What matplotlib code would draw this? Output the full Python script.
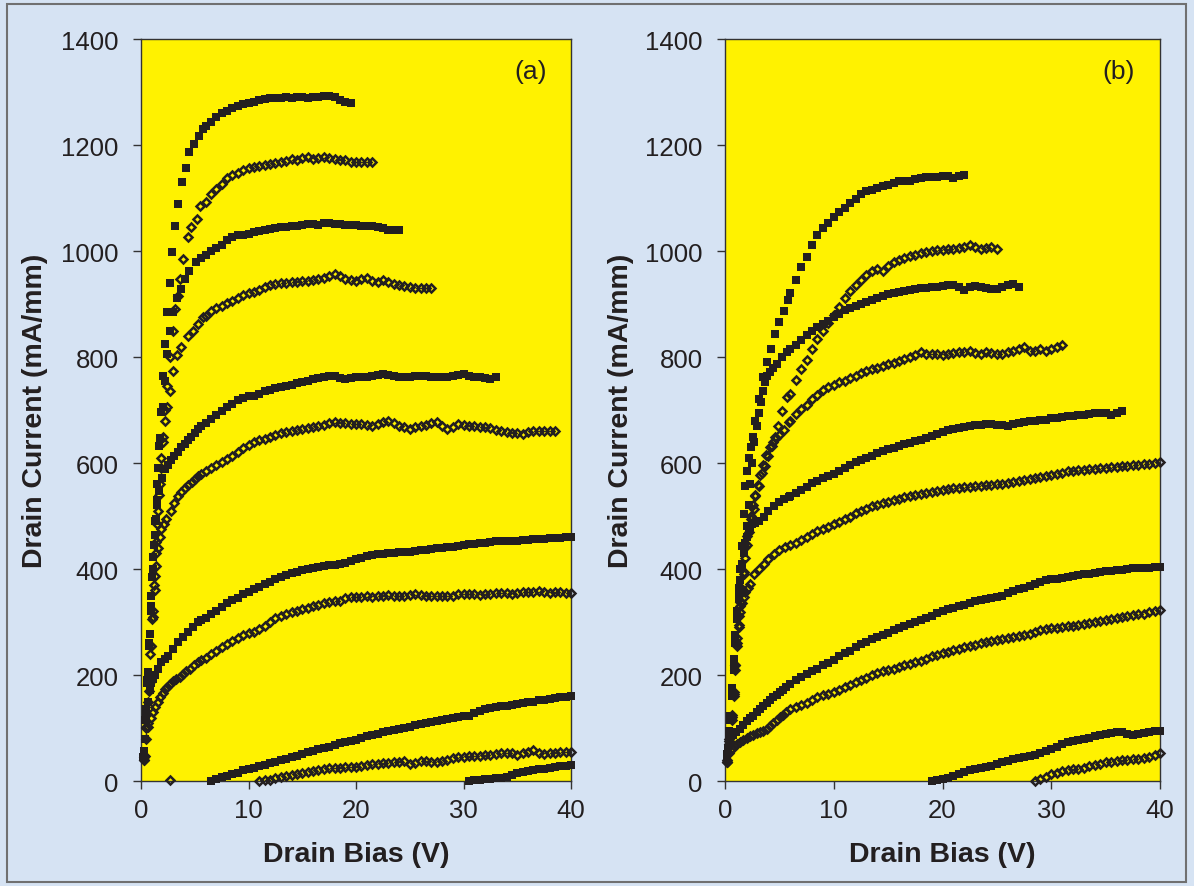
import numpy as np
import matplotlib
matplotlib.use('Agg')
import matplotlib.pyplot as plt
from matplotlib.patches import Rectangle

plt.rcParams['font.family'] = ['Liberation Sans', 'DejaVu Sans']

STEP = 0.5  # drain-bias step of the saturation part of each sweep (V)

# ======================= panel (a) =======================
# each curve: low-bias (V, I) pairs, start bias of the 0.5 V part, currents of that part
a1_lo = [(0.28,57),(0.49,136),(0.65,205),(0.81,277),(0.96,349),(1.12,423),(1.27,490),(1.5,560),(1.65,632),(1.83,696),(2.0,764),(2.2,825),(2.45,885),(2.73,940),(2.9,998),(3.2,1047),(3.44,1089),(3.8,1130),(4.2,1157),(4.5,1187),(4.9,1202),(5.4,1217),(5.8,1230)]
a1_v0 = 6.0
a1_hi = [1235,1243,1253,1260,1265,1269,1273,1277,1280,1282,
         1284,1286,1288,1289,1289,1290,1289,1290,1290,1288,
         1290,1291,1292,1293,1290,1285,1281,1280]

a2_lo = [(0.34,47),(0.65,110),(0.81,187),(0.96,255),(1.12,321),(1.27,387),(1.43,451),(1.58,510),(1.74,560),(1.9,610),(2.05,650),(2.25,700),(2.45,745),(2.7,800),(2.95,850),(3.2,890),(3.4,915),(3.63,947),(3.94,985),(4.34,1026),(4.65,1045),(5.18,1061),(5.5,1085)]
a2_v0 = 6.0
a2_hi = [1092,1108,1117,1126,1138,1143,1148,1152,1156,1158,
         1160,1162,1165,1166,1168,1170,1173,1172,1175,1177,
         1174,1176,1178,1176,1174,1172,1171,1168,1168,1167,
         1167,1168]

a3_lo = [(0.25,45),(0.42,115),(0.6,190),(0.77,260),(0.93,330),(1.1,400),(1.27,465),(1.45,530),(1.62,590),(1.8,648),(2.0,705),(2.2,755),(2.45,805),(2.7,850),(3.0,885),(3.35,911),(3.75,928),(4.06,947),(4.5,963),(5.1,979),(5.6,986)]
a3_v0 = 6.0
a3_hi = [992,1000,1006,1012,1020,1027,1030,1031,1033,1036,
         1038,1040,1042,1043,1045,1046,1047,1048,1050,1051,
         1051,1050,1052,1052,1051,1051,1050,1049,1050,1048,
         1047,1048,1046,1044,1040,1040,1040]

a4_lo = [(0.3,40),(0.5,100),(0.7,170),(0.87,240),(1.03,305),(1.2,370),(1.36,430),(1.52,485),(1.7,540),(1.88,590),(2.05,640),(2.25,680),(2.45,705),(2.67,736),(2.98,774),(3.38,803),(3.75,819),(4.37,840),(4.84,850),(5.3,862),(5.77,875)]
a4_v0 = 6.0
a4_hi = [878,886,892,897,901,906,912,917,920,922,
         927,932,936,938,939,940,941,942,943,944,
         946,948,950,953,956,952,948,946,944,948,
         950,944,942,946,942,938,936,934,933,931,
         931,930,931]

a5_lo = [(0.2,45),(0.4,115),(0.58,185),(0.75,255),(0.9,320),(1.05,385),(1.2,445),(1.35,495),(1.5,520),(1.7,548),(1.95,572),(2.2,588),(2.5,597),(2.82,605),(3.1,614),(3.44,621),(3.75,630),(4.06,636),(4.37,643),(4.68,649),(5.0,657),(5.3,664),(5.6,669)]
a5_v0 = 6.0
a5_hi = [676,683,691,699,706,712,718,723,726,727,
         730,735,738,741,744,746,748,751,753,755,
         758,760,762,764,764,760,758,760,762,762,
         762,764,766,767,766,764,763,762,762,764,
         765,764,763,762,762,762,764,766,767,764,
         762,762,760,758,762]

a6_lo = [(0.3,45),(0.5,102),(0.65,150),(0.81,200),(0.96,255),(1.12,310),(1.27,360),(1.43,405),(1.58,440),(1.74,460),(1.9,475),(2.1,485),(2.35,494),(2.8,510),(3.1,525),(3.44,538),(3.75,545),(4.1,553),(4.4,558),(4.7,564),(5.0,569),(5.3,576),(5.6,580)]
a6_v0 = 6.0
a6_hi = [585,591,596,601,608,614,621,628,634,640,
         644,646,650,653,656,659,661,663,665,666,
         667,670,672,675,677,676,675,674,674,673,
         672,670,674,678,680,675,670,668,664,668,
         670,672,675,677,670,664,668,673,672,670,
         669,668,667,666,663,661,659,657,656,655,
         658,661,660,661,661,661]

a7_lo = [(0.2,45),(0.35,80),(0.5,120),(0.65,150),(0.8,172),(0.95,185),(1.1,193),(1.3,200),(1.58,211),(1.9,225),(2.2,231),(2.5,236),(2.98,249),(3.44,262),(3.9,271),(4.37,281),(4.84,290),(5.3,300),(5.6,303)]
a7_v0 = 6.0
a7_hi = [308,315,321,329,336,341,346,352,357,362,
         366,371,376,381,385,389,392,395,398,400,
         402,404,405,407,408,410,412,415,418,421,
         425,427,428,429,430,431,432,433,433,434,
         435,436,437,439,440,441,442,444,445,447,
         448,449,450,451,452,452,452,453,453,454,
         455,456,456,457,458,459,459,460,461]

a8_lo = [(0.25,40),(0.45,80),(0.68,101),(0.9,118),(1.1,130),(1.3,139),(1.55,150),(1.77,158),(2.0,166),(2.2,174),(2.45,178),(2.7,183),(3.0,188),(3.3,192),(3.6,197),(3.9,202),(4.2,207),(4.56,212),(4.9,218),(5.3,224),(5.6,228)]
a8_v0 = 6.0
a8_hi = [233,239,246,252,258,264,270,275,279,282,
         286,293,300,308,312,315,318,321,324,327,
         330,333,335,337,339,340,345,348,347,348,
         350,348,349,350,351,350,349,350,351,352,
         351,350,349,350,350,349,350,352,353,353,
         352,351,352,353,354,355,354,352,355,357,
         356,357,358,356,354,356,357,355,355]

a9_lo = []
a9_v0 = 6.5
a9_hi = [0,4,7,10,13,16,20,23,25,28,
         31,34,36,39,42,45,48,51,54,57,
         60,63,65,68,71,74,76,78,81,84,
         87,89,92,94,97,99,100,102,105,107,
         109,111,113,115,117,119,121,123,123,128,
         133,135,137,139,141,142,144,145,147,149,
         150,152,153,155,156,158,159,161]

a10_lo = []
a10_v0 = 11.0
a10_hi = [0,1,2,5,7,9,11,13,15,17,
          19,21,22,24,25,25,26,26,27,29,
          30,32,33,34,34,35,36,37,33,34,
          38,37,35,35,37,40,43,45,46,47,
          48,48,49,50,51,52,53,52,49,52,
          55,59,53,51,52,53,54,54,54]

a11_lo = []
a11_v0 = 30.5
a11_hi = [0,1,2,3,4,5,6,7,12,16,17,19,20,22,23,24,26,28,29,31]

a12_lo = [(2.7,1)]
a12_v0 = 0.0
a12_hi = []

# ======================= panel (b) =======================
b1_lo = [(0.18,51),(0.35,95),(0.49,123),(0.64,170),(0.8,220),(0.95,270),(1.1,320),(1.25,365),(1.41,400),(1.56,444),(1.72,504),(1.87,557),(2.03,585),(2.18,610),(2.35,630),(2.55,650),(2.8,680),(3.1,720),(3.47,762),(3.86,790),(4.26,816),(4.63,843),(5.0,866),(5.43,886),(5.8,908)]
b1_v0 = 6.0
b1_hi = [920,945,969,988,1012,1030,1044,1053,1065,1074,
         1081,1091,1099,1107,1113,1116,1119,1122,1125,1128,
         1132,1133,1133,1135,1137,1139,1139,1140,1141,1142,
         1137,1142,1144]

b2_lo = [(0.2,35),(0.4,70),(0.6,115),(0.8,161),(0.95,218),(1.1,270),(1.26,312),(1.41,337),(1.56,356),(1.72,394),(1.87,441),(2.03,462),(2.18,482),(2.4,500),(2.64,513),(2.8,538),(3.1,557),(3.4,582),(3.7,595),(4.0,614),(4.3,633),(4.6,650),(4.9,670),(5.24,699),(5.7,724)]
b2_v0 = 6.0
b2_hi = [731,757,777,795,815,834,850,865,880,895,
         912,925,935,945,954,962,966,962,972,979,
         983,987,990,993,996,998,1000,1002,1002,1003,
         1004,1005,1007,1012,1008,1004,1006,1008,1004]

b3_lo = [(0.2,40),(0.35,80),(0.5,120),(0.65,175),(0.8,230),(0.95,275),(1.1,315),(1.26,350),(1.41,380),(1.56,405),(1.72,430),(1.87,450),(2.02,482),(2.18,520),(2.33,560),(2.5,600),(2.7,640),(2.9,670),(3.1,695),(3.3,715),(3.5,735),(3.7,752),(3.9,765),(4.1,772),(4.4,780),(4.78,787),(5.24,800),(5.7,809)]
b3_v0 = 6.0
b3_hi = [815,823,832,842,850,856,862,868,876,882,
         888,893,896,900,904,908,912,915,918,920,
         922,924,926,928,930,931,932,933,934,935,
         935,932,926,932,934,932,930,928,929,932,
         936,938,932]

b4_lo = [(0.2,35),(0.4,75),(0.6,120),(0.8,165),(0.95,210),(1.1,255),(1.26,295),(1.41,330),(1.56,362),(1.72,390),(1.87,420),(2.03,445),(2.2,470),(2.4,495),(2.6,520),(2.8,540),(3.0,558),(3.25,578),(3.5,597),(3.8,615),(4.1,630),(4.4,640),(4.7,648),(5.0,652),(5.4,662),(5.86,677)]
b4_v0 = 6.0
b4_hi = [680,693,702,710,720,728,737,743,748,752,
         755,760,765,770,774,777,780,783,786,789,
         793,797,800,804,810,806,806,805,803,805,
         808,810,810,812,808,806,810,808,805,806,
         810,812,816,818,812,812,815,812,815,818,
         822]

b5_lo = [(0.2,40),(0.35,75),(0.5,115),(0.65,160),(0.8,210),(0.95,260),(1.1,305),(1.26,345),(1.41,380),(1.56,410),(1.72,432),(1.87,448),(2.02,460),(2.18,472),(2.33,480),(2.5,485),(2.8,487),(3.1,490),(3.56,498),(4.0,510),(4.48,519),(4.94,526),(5.4,532),(5.86,535)]
b5_v0 = 6.0
b5_hi = [537,544,550,555,562,566,571,576,580,584,
         590,596,601,605,610,614,618,622,626,629,
         632,635,638,641,644,647,651,655,659,662,
         664,666,668,670,671,672,673,674,672,671,
         670,673,676,678,679,680,681,682,684,685,
         687,688,689,690,691,692,694,695,694,690,
         694,698]

b6_lo = [(0.2,35),(0.4,80),(0.6,125),(0.8,167),(0.95,218),(1.1,260),(1.26,290),(1.41,318),(1.56,335),(1.72,347),(1.87,356),(2.1,365),(2.33,372),(2.64,391),(3.1,400),(3.56,409),(4.0,419),(4.48,428),(4.94,435),(5.55,441)]
b6_v0 = 6.0
b6_hi = [446,450,455,460,466,471,476,480,485,489,
         494,499,505,510,514,518,521,524,527,530,
         533,535,537,540,542,544,546,548,550,551,
         552,553,554,555,556,557,558,559,560,561,
         562,564,566,568,570,572,574,576,578,580,
         582,584,585,586,587,588,589,590,591,592,
         593,594,595,596,597,598,599,600,602]

b7_lo = [(0.15,45),(0.3,62),(0.5,75),(0.77,86),(1.05,92),(1.38,98),(1.7,106),(2.0,114),(2.3,119),(2.6,123),(2.9,130),(3.2,136),(3.5,142),(3.83,148),(4.15,153),(4.45,158),(4.75,163),(5.06,167),(5.35,172),(5.65,177)]
b7_v0 = 6.0
b7_hi = [183,190,196,202,207,212,218,222,228,235,
         241,246,252,258,263,268,272,276,280,284,
         288,292,296,300,304,308,312,317,321,324,
         327,330,333,336,339,341,343,345,347,350,
         354,358,362,365,368,372,376,379,381,382,
         383,385,386,388,390,391,393,394,396,397,
         398,399,400,401,401,401,402,403,404]

b8_lo = [(0.15,40),(0.35,52),(0.6,60),(0.85,66),(1.1,70),(1.38,73),(1.7,78),(2.0,82),(2.3,84),(2.6,86),(2.9,90),(3.2,93),(3.5,95),(3.83,98),(4.15,104),(4.45,110),(4.75,115),(5.06,120),(5.35,125),(5.65,130)]
b8_v0 = 6.0
b8_hi = [135,140,144,148,153,158,162,165,168,172,
         177,181,186,190,195,200,204,207,210,212,
         215,218,221,224,227,230,235,238,241,244,
         247,249,252,255,257,260,262,264,266,268,
         270,272,274,276,278,281,284,286,288,289,
         290,292,293,295,297,298,300,302,303,305,
         307,309,311,313,315,316,318,320,322]

b9_lo = []
b9_v0 = 19.0
b9_hi = [0,1,3,6,10,14,17,20,22,24,
         27,29,32,35,38,42,44,46,47,49,
         53,57,61,65,70,73,75,77,80,82,
         85,87,89,91,93,92,88,87,89,91,
         92,94,95]

b10_lo = []
b10_v0 = 28.5
b10_hi = [0,3,8,13,16,19,20,22,23,24,29,31,33,35,36,38,39,40,41,42,43,45,50,52]

panel_a = [(a1_lo,a1_v0,a1_hi,'s'),(a2_lo,a2_v0,a2_hi,'D'),(a3_lo,a3_v0,a3_hi,'s'),
           (a4_lo,a4_v0,a4_hi,'D'),(a5_lo,a5_v0,a5_hi,'s'),(a6_lo,a6_v0,a6_hi,'D'),
           (a7_lo,a7_v0,a7_hi,'s'),(a8_lo,a8_v0,a8_hi,'D'),(a9_lo,a9_v0,a9_hi,'s'),
           (a10_lo,a10_v0,a10_hi,'D'),(a11_lo,a11_v0,a11_hi,'s'),(a12_lo,a12_v0,a12_hi,'D')]
panel_b = [(b1_lo,b1_v0,b1_hi,'s'),(b2_lo,b2_v0,b2_hi,'D'),(b3_lo,b3_v0,b3_hi,'s'),
           (b4_lo,b4_v0,b4_hi,'D'),(b5_lo,b5_v0,b5_hi,'s'),(b6_lo,b6_v0,b6_hi,'D'),
           (b7_lo,b7_v0,b7_hi,'s'),(b8_lo,b8_v0,b8_hi,'D'),(b9_lo,b9_v0,b9_hi,'s'),
           (b10_lo,b10_v0,b10_hi,'D')]

x_ticks = [0, 10, 20, 30, 40]
y_ticks = [0, 200, 400, 600, 800, 1000, 1200, 1400]
panel_tags = ['(a)', '(b)']
x_label = 'Drain Bias (V)'
y_label = 'Drain Current (mA/mm)'

BG = '#d6e3f3'
YEL = '#fff200'
INK = '#231f20'
W, H = 1194, 887


def sweep(lo, v0, hi):
    v = [p[0] for p in lo] + list(v0 + STEP * np.arange(len(hi)))
    i = [p[1] for p in lo] + list(hi)
    return v, i


fig = plt.figure(figsize=(W / 100, H / 100), dpi=100, facecolor=BG)
fig.patches.append(Rectangle((7 / W, 1 - 883 / H), 1179 / W, 878 / H, transform=fig.transFigure,
                             fill=False, edgecolor='#707070', linewidth=1.5, zorder=0))

boxes = [(141, 571), (725, 1160)]
top_px, bot_px = 40, 782
ylab_x = [35, 621]

for k, (curves, (lpx, rpx)) in enumerate(zip([panel_a, panel_b], boxes)):
    ax = fig.add_axes([lpx / W, 1 - bot_px / H, (rpx - lpx) / W, (bot_px - top_px) / H])
    ax.set_facecolor(YEL)
    for lo, v0, hi, mk in curves:
        v, i = sweep(lo, v0, hi)
        if mk == 's':
            ax.plot(v, i, linestyle='none', marker='s', markersize=5.8, color=INK,
                    markeredgewidth=0, clip_on=False, zorder=3)
        else:
            ax.plot(v, i, linestyle='none', marker='D', markersize=4.4, markerfacecolor='none',
                    markeredgecolor=INK, markeredgewidth=1.8, clip_on=False, zorder=3)
    ax.set_xlim(0, 40)
    ax.set_ylim(0, 1400)
    ax.set_xticks(x_ticks)
    ax.set_yticks(y_ticks)
    ax.tick_params(axis='both', direction='out', length=6, width=1.0, color='#333333',
                   labelsize=18.5, labelcolor='#231f20')
    ax.tick_params(axis='x', pad=6)
    ax.tick_params(axis='y', pad=10)
    for s in ax.spines.values():
        s.set_color('#333333')
        s.set_linewidth(1.0)
    ax.text(36.2, 1340, panel_tags[k], fontsize=19, ha='center', va='center', color='#231f20')
    fig.text((lpx + rpx) / 2 / W, 1 - 855 / H, x_label, fontsize=20.5, fontweight='bold',
             ha='center', va='center', color='#231f20')
    fig.text(ylab_x[k] / W, 1 - (top_px + bot_px) / 2 / H, y_label, fontsize=20.5,
             fontweight='bold', rotation=90, ha='center', va='center', color='#231f20')

fig.savefig('out.png', dpi=100, facecolor=BG)
